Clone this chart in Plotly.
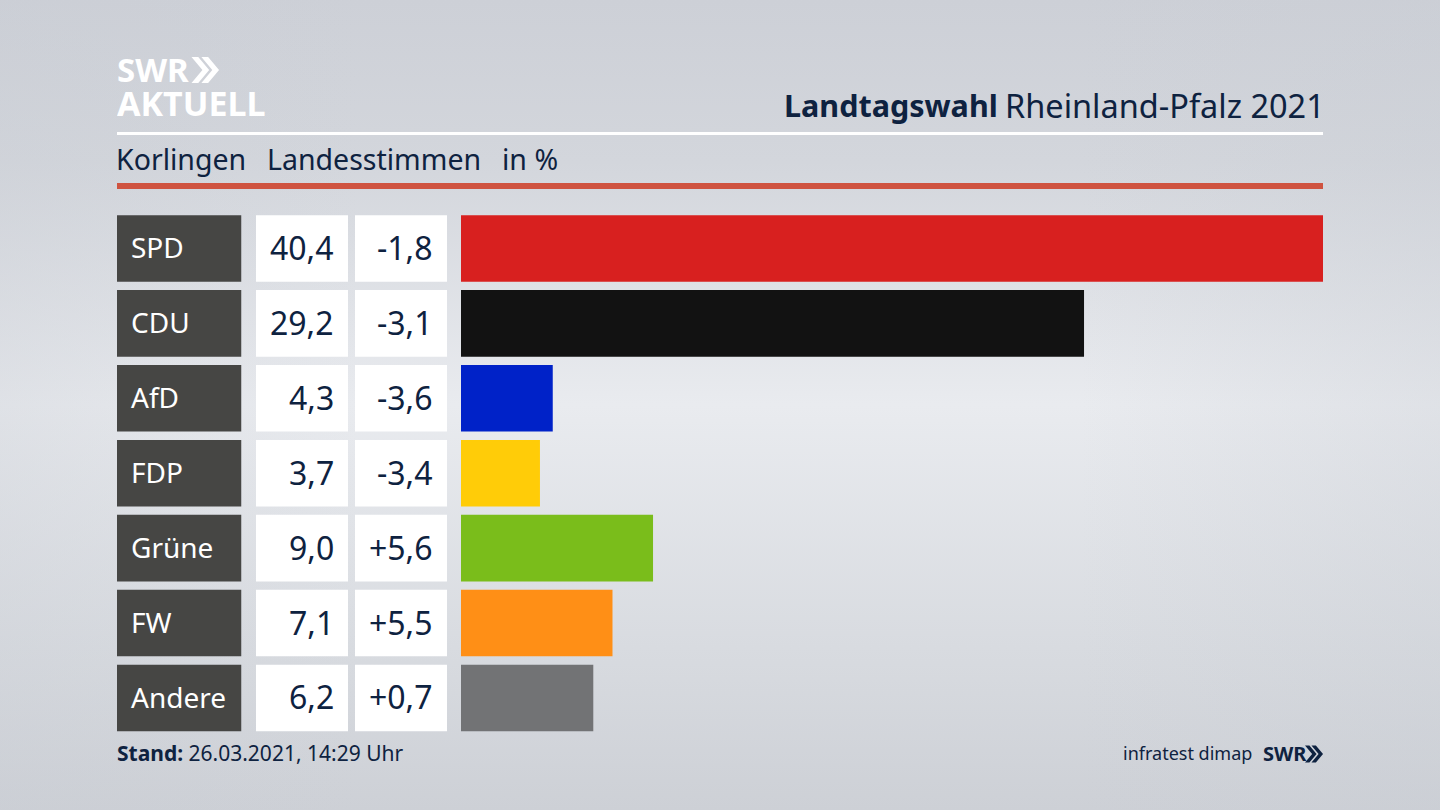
import base64
import plotly.graph_objects as go

W, H = 1440, 810

parteien = ["SPD", "CDU", "AfD", "FDP", "Grüne", "FW", "Andere"]
anteil = [40.4, 29.2, 4.3, 3.7, 9.0, 7.1, 6.2]
anteil_text = ["40,4", "29,2", "4,3", "3,7", "9,0", "7,1", "6,2"]
diff_text = ["-1,8", "-3,1", "-3,6", "-3,4", "+5,6", "+5,5", "+0,7"]
farben = ["#d8201f", "#121212", "#0022c8", "#ffcc08", "#7abd1b", "#ff8f16", "#727375"]

NAVY = "#0e2240"
FONT = "Noto Sans"


def px(x):
    return x / W


def py(y):
    return 1 - y / H


# hintergrund als svg, plotly shapes koennen keinen verlauf
svg = """<svg xmlns="http://www.w3.org/2000/svg" width="1440" height="810">
<defs>
<linearGradient id="a" x1="0" y1="0" x2="0" y2="1">
<stop offset="0" stop-color="#cdd0d7"/><stop offset="0.2" stop-color="#d3d6dc"/>
<stop offset="0.5" stop-color="#e9ebef"/><stop offset="0.8" stop-color="#d8dbe0"/>
<stop offset="1" stop-color="#cdd0d6"/>
</linearGradient>
<linearGradient id="b" x1="0" y1="0" x2="1" y2="0">
<stop offset="0" stop-color="#c8ccd3" stop-opacity="0.3"/><stop offset="0.25" stop-color="#c8ccd3" stop-opacity="0"/>
<stop offset="0.75" stop-color="#c8ccd3" stop-opacity="0"/><stop offset="1" stop-color="#c8ccd3" stop-opacity="0.3"/>
</linearGradient>
</defs>
<rect width="1440" height="810" fill="url(#a)"/>
<rect width="1440" height="810" fill="url(#b)"/>
</svg>"""
bg = "data:image/svg+xml;base64," + base64.b64encode(svg.encode()).decode()

fig = go.Figure()
gap = 0.112

fig.add_trace(go.Bar(y=parteien, x=[1] * 7, orientation="h", xaxis="x2", yaxis="y",
                     marker=dict(color="#464644", line_width=0), width=1 - gap, hoverinfo="skip"))
fig.add_trace(go.Bar(y=parteien, x=[1] * 7, orientation="h", xaxis="x3", yaxis="y",
                     marker=dict(color="#ffffff", line_width=0), width=1 - gap, hoverinfo="skip"))
fig.add_trace(go.Bar(y=parteien, x=[1] * 7, orientation="h", xaxis="x4", yaxis="y",
                     marker=dict(color="#ffffff", line_width=0), width=1 - gap, hoverinfo="skip"))
fig.add_trace(go.Bar(y=parteien, x=anteil, orientation="h", xaxis="x", yaxis="y",
                     marker=dict(color=farben, line_width=0), width=1 - gap))

annotations = []


def text(x, y, s, size, color=NAVY, anchor="left", xref="paper", yref="paper", yshift=0, height=None):
    annotations.append(dict(x=x, y=y, text=s, xref=xref, yref=yref, showarrow=False,
                            xanchor=anchor, yanchor="middle", align=anchor, yshift=yshift, height=height,
                            font=dict(family=FONT, size=size, color=color)))


for p, a, d in zip(parteien, anteil_text, diff_text):
    text(px(129), p, p, 28, "#ffffff", yref="y", yshift=1)
    text(px(336), p, a, 32, anchor="right", yref="y", yshift=1)
    text(px(435), p, d, 32, anchor="right", yref="y", yshift=1)

text(px(114), py(159), "Korlingen", 28.5)
text(px(265), py(159), "Landesstimmen", 28.5)
text(px(500), py(159), "in %", 28.5)
text(px(782), py(105), "<b>Landtagswahl</b>", 30.5)
text(px(1327), py(105), "Rheinland-Pfalz 2021", 32.5, anchor="right")
text(px(115), py(753), "<b>Stand:</b> 26.03.2021, 14:29 Uhr", 21)
text(px(1254), py(753), "infratest dimap", 18, anchor="right")
text(px(1261), py(753), "<b>SWR</b>", 20)
text(px(115), py(69), "<b>SWR</b>", 33, "#ffffff", height=30)
text(px(115), py(103), "<b>AKTUELL</b>", 34, "#ffffff", height=30)


def chevrons(x, y, h, color):
    # zwei pfeile vom logo
    out = []
    w = h * 0.42
    t = h * 0.26
    for dx in (0, h * 0.38):
        x0 = x + dx
        pts = [(x0, y), (x0 + t, y), (x0 + t + w, y + h / 2), (x0 + t, y + h), (x0, y + h), (x0 + w, y + h / 2)]
        path = "M " + " L ".join(f"{px(a):.5f},{py(b):.5f}" for a, b in pts) + " Z"
        out.append(dict(type="path", xref="paper", yref="paper", path=path,
                        fillcolor=color, line_width=0, layer="above"))
    return out


shapes = [
    dict(type="rect", xref="paper", yref="paper", x0=px(117), x1=px(1323), y0=py(135), y1=py(132),
         fillcolor="#ffffff", line_width=0),
    dict(type="rect", xref="paper", yref="paper", x0=px(117), x1=px(1323), y0=py(189), y1=py(183),
         fillcolor="#cf5340", line_width=0),
]
shapes += chevrons(191.5, 57, 26, "#ffffff")
shapes += chevrons(1305, 745.5, 17, NAVY)

hidden = dict(visible=False, fixedrange=True)
fig.update_layout(
    width=W,
    height=H,
    margin=dict(l=0, r=0, t=0, b=0),
    paper_bgcolor="rgba(0,0,0,0)",
    plot_bgcolor="rgba(0,0,0,0)",
    showlegend=False,
    xaxis=dict(domain=[px(461), px(1323)], range=[0, 40.4], **hidden),
    xaxis2=dict(domain=[px(117), px(241.5)], range=[0, 1], anchor="y", **hidden),
    xaxis3=dict(domain=[px(256), px(348)], range=[0, 1], anchor="y", **hidden),
    xaxis4=dict(domain=[px(355), px(447)], range=[0, 1], anchor="y", **hidden),
    yaxis=dict(domain=[py(735.4), py(211)], type="category", categoryorder="array", categoryarray=parteien,
               range=[6.5, -0.5], **hidden),
    annotations=annotations,
    shapes=shapes,
    images=[dict(source=bg, xref="paper", yref="paper", x=0, y=1, sizex=1, sizey=1,
                 sizing="stretch", layer="below", xanchor="left", yanchor="top")],
)

fig.write_html("out.html", config=dict(displayModeBar=False),
               post_script="document.body.style.margin='0';document.body.style.overflow='hidden';")
